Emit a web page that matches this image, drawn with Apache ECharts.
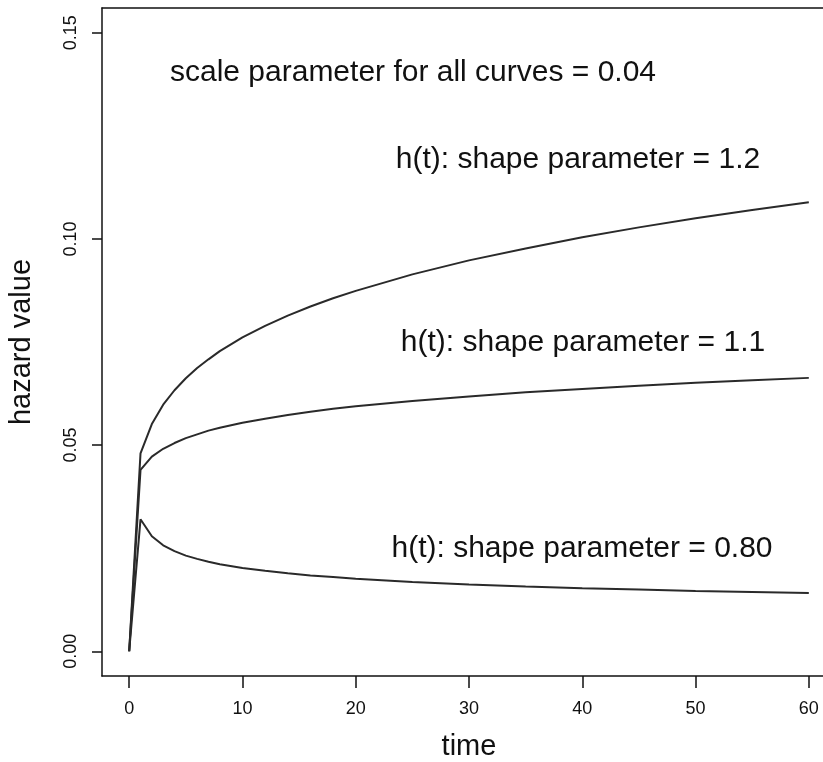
<!DOCTYPE html>
<html>
<head>
<meta charset="utf-8">
<script src="https://cdn.jsdelivr.net/npm/echarts@6/dist/echarts.min.js"></script>
<style>
  html, body { margin: 0; padding: 0; background: #fff; overflow: hidden; }
  #chart { width: 823px; height: 762px; }
</style>
</head>
<body>
<div id="chart"></div>
<script>
// time points
var time = [0, 1, 2, 3, 4, 5, 6, 7, 8, 10, 12, 14, 16, 18, 20, 25, 30, 35, 40, 45, 50, 55, 60];
// hazard values, shape 1.2 / 1.1 / 0.80
var shape12 = [0, 0.0480, 0.0551, 0.0598, 0.0633, 0.0662, 0.0687, 0.0708, 0.0728, 0.0761, 0.0789, 0.0814,
    0.0836, 0.0856, 0.0874, 0.0914, 0.0948, 0.0977, 0.1004, 0.1028, 0.1050, 0.1070, 0.1089];
var shape11 = [0, 0.0440, 0.0472, 0.0491, 0.0505, 0.0517, 0.0526, 0.0535, 0.0542, 0.0554, 0.0564, 0.0573,
    0.0581, 0.0588, 0.0594, 0.0607, 0.0618, 0.0628, 0.0636, 0.0644, 0.0651, 0.0657, 0.0663];
var shape08 = [0, 0.0320, 0.0279, 0.0257, 0.0243, 0.0232, 0.0224, 0.0217, 0.0211, 0.0202, 0.0195, 0.0189,
    0.0184, 0.0180, 0.0176, 0.0168, 0.0162, 0.0157, 0.0153, 0.0150, 0.0146, 0.0144, 0.0141];
var xTicks = [0, 10, 20, 30, 40, 50, 60];
var yTicks = [0, 0.05, 0.10, 0.15];

(function () {
    var font = 'Liberation Sans, Arial, Helvetica, sans-serif';
    var ink = '#111';
    var chart = echarts.init(document.getElementById('chart'));

    function pairs(ys) {
        return time.map(function (t, i) { return [t, ys[i]]; });
    }
    function curve(name, ys) {
        return {
            name: name,
            type: 'line',
            data: pairs(ys),
            showSymbol: false,
            animation: false,
            lineStyle: { color: '#2a2a2a', width: 2 }
        };
    }
    function note(text, x, y) {
        return {
            type: 'text', x: x, y: y,
            style: { text: text, font: '30px ' + font, fill: ink, textAlign: 'center', textVerticalAlign: 'middle' }
        };
    }
    var frame = { show: true, onZero: false, lineStyle: { color: ink, width: 1.5 } };

    var option = {
        animation: false,
        backgroundColor: '#fff',
        grid: {
            left: 102, top: 8, width: 734, height: 668,
            show: false, containLabel: false, outerBoundsMode: 'none'
        },
        xAxis: [{
            type: 'value', min: -2.4, max: 62.4, position: 'bottom',
            name: 'time', nameLocation: 'middle', nameGap: 56,
            nameTextStyle: { fontFamily: font, fontSize: 29, color: ink },
            splitLine: { show: false },
            axisLine: frame,
            axisTick: { show: true, length: 12, customValues: xTicks, lineStyle: { color: ink, width: 1.5 } },
            axisLabel: { customValues: xTicks, margin: 24, fontFamily: font, fontSize: 18, color: ink }
        }, {
            // top edge of the box only
            type: 'value', min: -2.4, max: 62.4, position: 'top',
            splitLine: { show: false },
            axisLine: frame,
            axisTick: { show: false },
            axisLabel: { show: false }
        }],
        yAxis: {
            type: 'value', min: -0.006, max: 0.156,
            name: 'hazard value', nameLocation: 'middle', nameGap: 66,
            nameTextStyle: { fontFamily: font, fontSize: 29, color: ink },
            splitLine: { show: false },
            axisLine: frame,
            axisTick: { show: true, length: 10, customValues: yTicks, lineStyle: { color: ink, width: 1.5 } },
            axisLabel: {
                customValues: yTicks, rotate: 90, margin: 22,
                fontFamily: font, fontSize: 18, color: ink,
                formatter: function (v) { return v.toFixed(2); }
            }
        },
        series: [
            curve('1.2', shape12),
            curve('1.1', shape11),
            curve('0.80', shape08)
        ],
        graphic: [
            note('scale parameter for all curves = 0.04', 413, 73),
            note('h(t): shape parameter = 1.2', 578, 160),
            note('h(t): shape parameter = 1.1', 583, 343),
            note('h(t): shape parameter = 0.80', 582, 549),
            { type: 'rect', z: 100, shape: { x: 814, y: 10, width: 9, height: 664 }, style: { fill: '#fff' } }
        ]
    };
    chart.setOption(option);
}());
</script>
</body>
</html>
